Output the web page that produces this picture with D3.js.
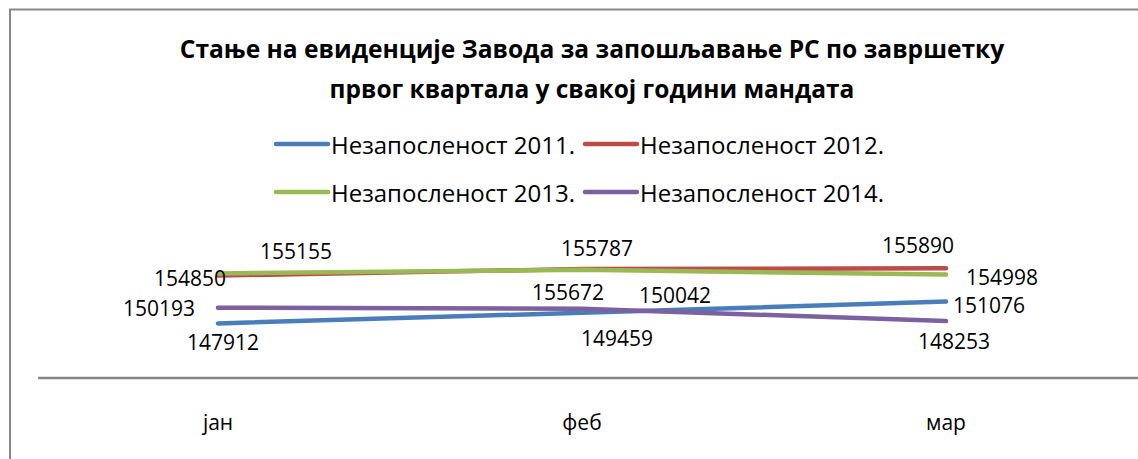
<!DOCTYPE html>
<html>
<head>
<meta charset="utf-8">
<script src="https://cdn.jsdelivr.net/npm/d3@7"></script>
<style>
  html, body { margin: 0; padding: 0; background: #fff; }
  svg text { font-family: "Open Sans", "Noto Sans", sans-serif; fill: #000; }
</style>
</head>
<body>
<div id="chart"></div>
<script>
// data
const months = ['јан', 'феб', 'мар'];
const seriesNames = ['Незапосленост 2011.', 'Незапосленост 2012.', 'Незапосленост 2013.', 'Незапосленост 2014.'];
const unemp2011 = [147912, 149459, 151076];
const unemp2012 = [154850, 155787, 155890];
const unemp2013 = [155155, 155672, 154998];
const unemp2014 = [150193, 150042, 148253];
const titleLines = ['Стање на евиденције Завода за запошљавање РС по завршетку', 'првог квартала у свакој години мандата'];

const colors = ['#4A7EBB', '#BE4B48', '#98B954', '#7D60A0'];
// label nudges (px) from each point, same order as the series
const labelOffsets = [
  [[5, 19], [35, 25], [43, 3]],
  [[-28, 2], [15, -21], [-28, -23]],
  [[78, -22], [-14, 22], [56, 2]],
  [[-59, 0], [93, -14], [8, 20]]
];

const width = 1138;
const height = 459;
const allSeries = [unemp2011, unemp2012, unemp2013, unemp2014];

const svg = d3.select('#chart')
  .append('svg')
  .attr('width', width)
  .attr('height', height);

// chart border (cropped on right and bottom)
svg.append('rect')
  .attr('x', 10).attr('y', 9.5)
  .attr('width', 1300).attr('height', 600)
  .attr('fill', 'white')
  .attr('stroke', '#878787')
  .attr('stroke-width', 2);

// fit text width by adjusting font size
function fit(sel, target) {
  sel.each(function () {
    const fs = parseFloat(d3.select(this).style('font-size'));
    const w = this.getComputedTextLength();
    d3.select(this).style('font-size', (fs * target / w) + 'px');
  });
}

// title
const titleWidths = [825, 525];
titleLines.forEach((t, i) => {
  svg.append('text')
    .attr('x', 592)
    .attr('y', 48 + i * 40)
    .attr('text-anchor', 'middle')
    .attr('dominant-baseline', 'central')
    .style('font-weight', 'bold')
    .style('font-size', '22px')
    .text(t)
    .call(fit, titleWidths[i]);
});

// scales
const x = d3.scaleBand().domain(months).range([36, 1128]);
const y = d3.scaleLinear().domain([140000, 160000]).range([378, 240]);

// category axis
const xAxis = svg.append('g')
  .attr('transform', 'translate(0,378)')
  .call(d3.axisBottom(x).tickSize(0).tickPadding(38));
xAxis.select('.domain')
  .attr('d', 'M38,0H1140')
  .attr('stroke', '#868686')
  .attr('stroke-width', 2.5);
xAxis.selectAll('text')
  .style('font-family', '"Open Sans", sans-serif')
  .style('font-size', '21px')
  .attr('dy', '0.35em')
  .attr('y', 45);

// lines
const line = d3.line()
  .x((d, i) => x(months[i]) + x.bandwidth() / 2)
  .y(d => y(d));

svg.append('g')
  .selectAll('path')
  .data(allSeries)
  .enter()
  .append('path')
  .attr('d', line)
  .attr('fill', 'none')
  .attr('stroke', (d, i) => colors[i])
  .attr('stroke-width', 4.5)
  .attr('stroke-linecap', 'round')
  .attr('stroke-linejoin', 'round');

// data labels
allSeries.forEach((vals, s) => {
  svg.append('g')
    .selectAll('text')
    .data(vals)
    .enter()
    .append('text')
    .attr('x', (d, i) => x(months[i]) + x.bandwidth() / 2 + labelOffsets[s][i][0])
    .attr('y', (d, i) => y(d) + labelOffsets[s][i][1])
    .attr('text-anchor', 'middle')
    .attr('dominant-baseline', 'central')
    .style('font-size', '21px')
    .text(d => d);
});

// legend
const legend = svg.append('g')
  .selectAll('.legends')
  .data(seriesNames)
  .enter()
  .append('g')
  .classed('legends', true)
  .attr('transform', (d, i) => 'translate(' + (276 + (i % 2) * 309) + ',' + (144 + Math.floor(i / 2) * 48) + ')');

legend.append('line')
  .attr('x1', 0).attr('x2', 52)
  .attr('y1', 0).attr('y2', 0)
  .attr('stroke', (d, i) => colors[i])
  .attr('stroke-width', 4.5)
  .attr('stroke-linecap', 'round');

legend.append('text')
  .attr('x', 55)
  .attr('y', 0)
  .attr('dominant-baseline', 'central')
  .style('font-size', '21px')
  .text(d => d)
  .call(fit, 244);
</script>
</body>
</html>
